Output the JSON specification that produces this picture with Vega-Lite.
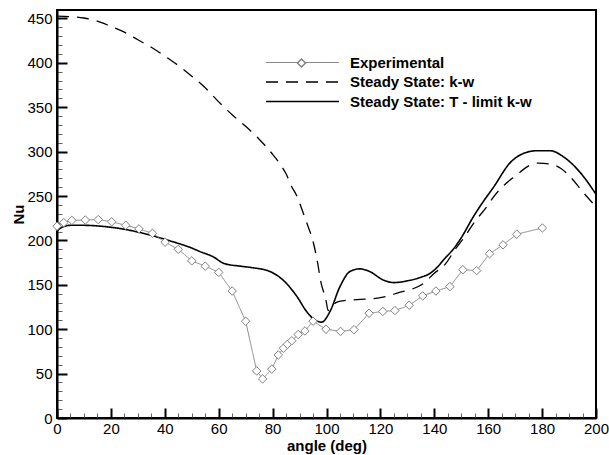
{
  "$schema": "https://vega.github.io/schema/vega-lite/v6.json",
  "width": 539,
  "height": 408,
  "autosize": {"type": "none"},
  "padding": {"left": 57, "top": 10, "right": 13, "bottom": 37},
  "background": "white",
  "config": {
    "font": "Liberation Sans",
    "view": {"stroke": "black", "strokeWidth": 2},
    "legend": {"padding": 0}
  },
  "datasets": {
    "curves": [
      {"series": "Experimental", "angle": 0, "nu": 216},
      {"series": "Experimental", "angle": 2.5, "nu": 220},
      {"series": "Experimental", "angle": 5.5, "nu": 222.5},
      {"series": "Experimental", "angle": 10.5, "nu": 223},
      {"series": "Experimental", "angle": 15.3, "nu": 223.5},
      {"series": "Experimental", "angle": 20.3, "nu": 221},
      {"series": "Experimental", "angle": 25.5, "nu": 217},
      {"series": "Experimental", "angle": 30.4, "nu": 213},
      {"series": "Experimental", "angle": 35.4, "nu": 208},
      {"series": "Experimental", "angle": 40.1, "nu": 198},
      {"series": "Experimental", "angle": 45, "nu": 190},
      {"series": "Experimental", "angle": 50, "nu": 177},
      {"series": "Experimental", "angle": 55, "nu": 171},
      {"series": "Experimental", "angle": 60, "nu": 164},
      {"series": "Experimental", "angle": 65, "nu": 143},
      {"series": "Experimental", "angle": 70, "nu": 109},
      {"series": "Experimental", "angle": 74.1, "nu": 53},
      {"series": "Experimental", "angle": 76.3, "nu": 44},
      {"series": "Experimental", "angle": 79.7, "nu": 55},
      {"series": "Experimental", "angle": 82.1, "nu": 71},
      {"series": "Experimental", "angle": 84, "nu": 78.5},
      {"series": "Experimental", "angle": 85.5, "nu": 83},
      {"series": "Experimental", "angle": 87.1, "nu": 87},
      {"series": "Experimental", "angle": 89.5, "nu": 94},
      {"series": "Experimental", "angle": 92, "nu": 98},
      {"series": "Experimental", "angle": 95, "nu": 109},
      {"series": "Experimental", "angle": 99.8, "nu": 100},
      {"series": "Experimental", "angle": 105.2, "nu": 97.5},
      {"series": "Experimental", "angle": 110.2, "nu": 99.5},
      {"series": "Experimental", "angle": 115.8, "nu": 118},
      {"series": "Experimental", "angle": 120.9, "nu": 120},
      {"series": "Experimental", "angle": 125.4, "nu": 121},
      {"series": "Experimental", "angle": 130.7, "nu": 127},
      {"series": "Experimental", "angle": 135.7, "nu": 137.5},
      {"series": "Experimental", "angle": 140.6, "nu": 143},
      {"series": "Experimental", "angle": 145.8, "nu": 148},
      {"series": "Experimental", "angle": 150.6, "nu": 167},
      {"series": "Experimental", "angle": 155.7, "nu": 166},
      {"series": "Experimental", "angle": 160.5, "nu": 185},
      {"series": "Experimental", "angle": 165.5, "nu": 195},
      {"series": "Experimental", "angle": 170.6, "nu": 207},
      {"series": "Experimental", "angle": 180.1, "nu": 214},
      {"series": "Steady State: k-w", "angle": 0, "nu": 452.5},
      {"series": "Steady State: k-w", "angle": 5, "nu": 452},
      {"series": "Steady State: k-w", "angle": 10, "nu": 450.5},
      {"series": "Steady State: k-w", "angle": 15, "nu": 447},
      {"series": "Steady State: k-w", "angle": 20, "nu": 441},
      {"series": "Steady State: k-w", "angle": 25, "nu": 434.5},
      {"series": "Steady State: k-w", "angle": 30, "nu": 426},
      {"series": "Steady State: k-w", "angle": 35, "nu": 417.5},
      {"series": "Steady State: k-w", "angle": 40, "nu": 407.5},
      {"series": "Steady State: k-w", "angle": 45, "nu": 397},
      {"series": "Steady State: k-w", "angle": 50, "nu": 385},
      {"series": "Steady State: k-w", "angle": 55, "nu": 372},
      {"series": "Steady State: k-w", "angle": 60, "nu": 356},
      {"series": "Steady State: k-w", "angle": 65, "nu": 341.5},
      {"series": "Steady State: k-w", "angle": 70, "nu": 328.5},
      {"series": "Steady State: k-w", "angle": 75, "nu": 314},
      {"series": "Steady State: k-w", "angle": 80, "nu": 297},
      {"series": "Steady State: k-w", "angle": 83, "nu": 285},
      {"series": "Steady State: k-w", "angle": 85, "nu": 275},
      {"series": "Steady State: k-w", "angle": 87, "nu": 261},
      {"series": "Steady State: k-w", "angle": 89, "nu": 250},
      {"series": "Steady State: k-w", "angle": 91, "nu": 234},
      {"series": "Steady State: k-w", "angle": 93, "nu": 217},
      {"series": "Steady State: k-w", "angle": 95, "nu": 199},
      {"series": "Steady State: k-w", "angle": 96.5, "nu": 178},
      {"series": "Steady State: k-w", "angle": 98, "nu": 152},
      {"series": "Steady State: k-w", "angle": 99.8, "nu": 133},
      {"series": "Steady State: k-w", "angle": 100.6, "nu": 121},
      {"series": "Steady State: k-w", "angle": 101.5, "nu": 124},
      {"series": "Steady State: k-w", "angle": 103.5, "nu": 130},
      {"series": "Steady State: k-w", "angle": 106, "nu": 132},
      {"series": "Steady State: k-w", "angle": 110, "nu": 133},
      {"series": "Steady State: k-w", "angle": 115, "nu": 134},
      {"series": "Steady State: k-w", "angle": 119, "nu": 135},
      {"series": "Steady State: k-w", "angle": 123, "nu": 137.5},
      {"series": "Steady State: k-w", "angle": 127, "nu": 141.5},
      {"series": "Steady State: k-w", "angle": 131.6, "nu": 145},
      {"series": "Steady State: k-w", "angle": 135.7, "nu": 151},
      {"series": "Steady State: k-w", "angle": 140, "nu": 163},
      {"series": "Steady State: k-w", "angle": 144, "nu": 173},
      {"series": "Steady State: k-w", "angle": 148, "nu": 191},
      {"series": "Steady State: k-w", "angle": 151, "nu": 203},
      {"series": "Steady State: k-w", "angle": 155, "nu": 221},
      {"series": "Steady State: k-w", "angle": 159.5, "nu": 238},
      {"series": "Steady State: k-w", "angle": 162, "nu": 249},
      {"series": "Steady State: k-w", "angle": 166, "nu": 262.5},
      {"series": "Steady State: k-w", "angle": 170.5, "nu": 273.5},
      {"series": "Steady State: k-w", "angle": 175, "nu": 284},
      {"series": "Steady State: k-w", "angle": 178.5, "nu": 287},
      {"series": "Steady State: k-w", "angle": 183, "nu": 286},
      {"series": "Steady State: k-w", "angle": 187, "nu": 281},
      {"series": "Steady State: k-w", "angle": 191.5, "nu": 268},
      {"series": "Steady State: k-w", "angle": 195, "nu": 255},
      {"series": "Steady State: k-w", "angle": 200, "nu": 238},
      {"series": "Steady State: T - limit k-w", "angle": 0, "nu": 211},
      {"series": "Steady State: T - limit k-w", "angle": 2, "nu": 215},
      {"series": "Steady State: T - limit k-w", "angle": 5, "nu": 217},
      {"series": "Steady State: T - limit k-w", "angle": 10, "nu": 217},
      {"series": "Steady State: T - limit k-w", "angle": 18, "nu": 215.5},
      {"series": "Steady State: T - limit k-w", "angle": 26, "nu": 212},
      {"series": "Steady State: T - limit k-w", "angle": 34.5, "nu": 206},
      {"series": "Steady State: T - limit k-w", "angle": 43, "nu": 198.5},
      {"series": "Steady State: T - limit k-w", "angle": 49.5, "nu": 192},
      {"series": "Steady State: T - limit k-w", "angle": 53, "nu": 187.5},
      {"series": "Steady State: T - limit k-w", "angle": 58, "nu": 181.5},
      {"series": "Steady State: T - limit k-w", "angle": 62, "nu": 174},
      {"series": "Steady State: T - limit k-w", "angle": 68, "nu": 171},
      {"series": "Steady State: T - limit k-w", "angle": 72, "nu": 169.5},
      {"series": "Steady State: T - limit k-w", "angle": 79, "nu": 165},
      {"series": "Steady State: T - limit k-w", "angle": 84, "nu": 155},
      {"series": "Steady State: T - limit k-w", "angle": 89, "nu": 137},
      {"series": "Steady State: T - limit k-w", "angle": 92.6, "nu": 120},
      {"series": "Steady State: T - limit k-w", "angle": 95.7, "nu": 110.5},
      {"series": "Steady State: T - limit k-w", "angle": 98.2, "nu": 108},
      {"series": "Steady State: T - limit k-w", "angle": 101.3, "nu": 120},
      {"series": "Steady State: T - limit k-w", "angle": 105, "nu": 148},
      {"series": "Steady State: T - limit k-w", "angle": 108.7, "nu": 165},
      {"series": "Steady State: T - limit k-w", "angle": 112.4, "nu": 168},
      {"series": "Steady State: T - limit k-w", "angle": 116, "nu": 165},
      {"series": "Steady State: T - limit k-w", "angle": 121, "nu": 155.5},
      {"series": "Steady State: T - limit k-w", "angle": 125, "nu": 152.5},
      {"series": "Steady State: T - limit k-w", "angle": 130, "nu": 154.5},
      {"series": "Steady State: T - limit k-w", "angle": 135, "nu": 158.5},
      {"series": "Steady State: T - limit k-w", "angle": 138.5, "nu": 163},
      {"series": "Steady State: T - limit k-w", "angle": 140.5, "nu": 168},
      {"series": "Steady State: T - limit k-w", "angle": 144, "nu": 180},
      {"series": "Steady State: T - limit k-w", "angle": 147, "nu": 190},
      {"series": "Steady State: T - limit k-w", "angle": 150, "nu": 203},
      {"series": "Steady State: T - limit k-w", "angle": 154.5, "nu": 226.7},
      {"series": "Steady State: T - limit k-w", "angle": 158, "nu": 243},
      {"series": "Steady State: T - limit k-w", "angle": 162, "nu": 260},
      {"series": "Steady State: T - limit k-w", "angle": 168, "nu": 287},
      {"series": "Steady State: T - limit k-w", "angle": 174, "nu": 299},
      {"series": "Steady State: T - limit k-w", "angle": 178, "nu": 301},
      {"series": "Steady State: T - limit k-w", "angle": 183, "nu": 301},
      {"series": "Steady State: T - limit k-w", "angle": 188, "nu": 294},
      {"series": "Steady State: T - limit k-w", "angle": 194, "nu": 277},
      {"series": "Steady State: T - limit k-w", "angle": 200, "nu": 252}
    ]
  },
  "data": {"name": "curves"},
  "encoding": {
    "x": {
      "field": "angle",
      "type": "quantitative",
      "scale": {"domain": [0, 200], "nice": false, "zero": false},
      "axis": {
        "title": "angle (deg)",
        "titleFont": "Liberation Sans",
        "titleFontSize": 15,
        "titleFontWeight": "bold",
        "titleColor": "black",
        "titlePadding": -3,
        "values": [0,5,10,15,20,25,30,35,40,45,50,55,60,65,70,75,80,85,90,95,100,105,110,115,120,125,130,135,140,145,150,155,160,165,170,175,180,185,190,195,200],
        "labelExpr": "datum.value % 20 === 0 ? datum.label : ''",
        "labelFont": "Liberation Sans",
        "labelFontSize": 15,
        "labelColor": "black",
        "labelFlush": false,
        "labelOverlap": false,
        "labelPadding": 13,
        "tickSize": {"condition": {"test": "datum.value % 20 === 0", "value": -10}, "value": -5},
        "tickWidth": {"condition": {"test": "datum.value % 20 === 0", "value": 2}, "value": 1},
        "tickColor": {"condition": {"test": "datum.value % 20 === 0", "value": "black"}, "value": "#666666"},
        "domainColor": "black",
        "domainWidth": 2,
        "grid": false
      }
    },
    "y": {
      "field": "nu",
      "type": "quantitative",
      "scale": {"domain": [0, 459.5], "nice": false},
      "axis": {
        "title": "Nu",
        "titleFont": "Liberation Sans",
        "titleFontSize": 15,
        "titleFontWeight": "bold",
        "titleColor": "black",
        "titlePadding": 0,
        "values": [0,10,20,30,40,50,60,70,80,90,100,110,120,130,140,150,160,170,180,190,200,210,220,230,240,250,260,270,280,290,300,310,320,330,340,350,360,370,380,390,400,410,420,430,440,450],
        "labelExpr": "datum.value % 50 === 0 ? datum.label : ''",
        "labelFont": "Liberation Sans",
        "labelFontSize": 15,
        "labelColor": "black",
        "labelFlush": false,
        "labelOverlap": false,
        "labelPadding": 15,
        "tickSize": {"condition": {"test": "datum.value % 50 === 0", "value": -10}, "value": -5},
        "tickWidth": {"condition": {"test": "datum.value % 50 === 0", "value": 2}, "value": 1},
        "tickColor": {"condition": {"test": "datum.value % 50 === 0", "value": "black"}, "value": "#666666"},
        "domainColor": "black",
        "domainWidth": 2,
        "grid": false
      }
    }
  },
  "layer": [
    {
      "transform": [{"filter": "datum.series !== 'Experimental'"}],
      "mark": {"type": "line", "interpolate": "monotone"},
      "encoding": {
        "color": {
          "field": "series", "type": "nominal",
          "scale": {"domain": ["Experimental", "Steady State: k-w", "Steady State: T - limit k-w"], "range": ["#888888", "black", "black"]},
          "legend": {"title": null, "orient": "none", "legendX": 238, "legendY": 45, "symbolType": "M-7.3,0L7.3,0", "symbolSize": 100, "labelFont": "Liberation Sans", "labelFontSize": 15, "labelFontWeight": "bold", "labelColor": "black", "labelOffset": 40, "labelLimit": 0, "rowPadding": 3.5, "padding": 0}
        },
        "strokeDash": {
          "field": "series", "type": "nominal",
          "scale": {"domain": ["Experimental", "Steady State: k-w", "Steady State: T - limit k-w"], "range": [[1, 0], [12, 8], [1, 0]]},
          "legend": {"title": null, "orient": "none", "legendX": 238, "legendY": 45, "symbolType": "M-7.3,0L7.3,0", "symbolSize": 100, "labelFont": "Liberation Sans", "labelFontSize": 15, "labelFontWeight": "bold", "labelColor": "black", "labelOffset": 40, "labelLimit": 0, "rowPadding": 3.5, "padding": 0}
        },
        "strokeWidth": {
          "field": "series", "type": "nominal",
          "scale": {"domain": ["Experimental", "Steady State: k-w", "Steady State: T - limit k-w"], "range": [1, 1.6, 2]},
          "legend": {"title": null, "orient": "none", "legendX": 238, "legendY": 45, "symbolType": "M-7.3,0L7.3,0", "symbolSize": 100, "labelFont": "Liberation Sans", "labelFontSize": 15, "labelFontWeight": "bold", "labelColor": "black", "labelOffset": 40, "labelLimit": 0, "rowPadding": 3.5, "padding": 0}
        }
      }
    },
    {
      "transform": [{"filter": "datum.series === 'Experimental'"}],
      "mark": {"type": "line"},
      "encoding": {
        "color": {"field": "series", "type": "nominal"},
        "strokeDash": {"field": "series", "type": "nominal"},
        "strokeWidth": {"field": "series", "type": "nominal"}
      }
    },
    {
      "transform": [{"filter": "datum.series === 'Experimental'"}],
      "mark": {"type": "point", "filled": true, "fill": "white", "stroke": "#808080", "strokeWidth": 1, "size": 72, "opacity": 1},
      "encoding": {
        "shape": {
          "field": "series", "type": "nominal",
          "scale": {"range": ["diamond"]},
          "legend": {
            "title": null, "orient": "none", "legendX": 239.5, "legendY": 48,
            "labelExpr": "''", "labelFontSize": 9,
            "symbolType": "diamond", "symbolSize": 64, "padding": 0,
            "encode": {"symbols": {"update": {"fill": {"value": "white"}, "stroke": {"value": "#808080"}, "strokeWidth": {"value": 1}, "opacity": {"value": 1}}}}
          }
        }
      }
    }
  ]
}
